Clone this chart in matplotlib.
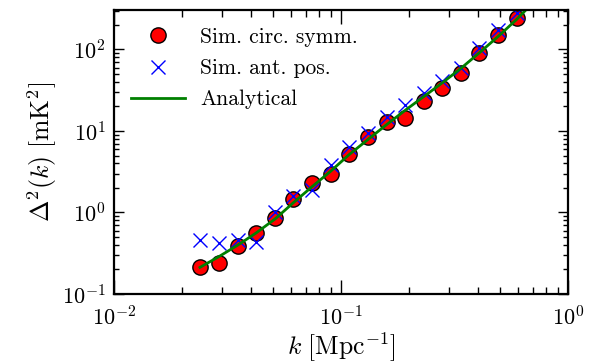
#! /usr/bin/env python
"""
plot.py
"""

import numpy as np
import matplotlib
matplotlib.use('Agg')
import matplotlib.pyplot as plt

plt.rcParams['font.family'] = 'serif'
plt.rcParams['font.serif'] = ['cmr10']
plt.rcParams['mathtext.fontset'] = 'cm'
plt.rcParams['axes.formatter.use_mathtext'] = True
plt.rcParams['axes.unicode_minus'] = False

# k in Mpc^-1
k_sim = [0.0239, 0.0290, 0.0351, 0.0423, 0.0512, 0.0617, 0.0748, 0.0904,
         0.108, 0.132, 0.159, 0.191, 0.231, 0.279, 0.338, 0.407, 0.493,
         0.594]
# Delta^2 in mK^2
delta_circ = [0.212, 0.237, 0.383, 0.558, 0.851, 1.46, 2.28, 3.0, 5.21,
              8.49, 12.8, 14.3, 23.5, 34.0, 50.8, 91.6, 151, 243]
delta_ant = [0.463, 0.421, 0.46, 0.44, 1.0, 1.6, 1.9, 3.83, 6.41, 9.4,
             14.9, 20.7, 29.1, 41.4, 58.9, 105, 174, 279]

k_analytic = [0.0239, 0.0290, 0.0351, 0.0423, 0.0512, 0.0617, 0.0748,
              0.0904, 0.108, 0.132, 0.159, 0.191, 0.231, 0.279, 0.338,
              0.407, 0.493, 0.594, 0.66]
delta_analytic = [0.212, 0.288, 0.398, 0.562, 0.832, 1.32, 2.09, 3.24,
                  5.07, 7.94, 12.0, 17.8, 26.3, 38.9, 58.9, 91.2, 145, 234,
                  316]

fig = plt.figure(figsize=(5.92, 3.64), dpi=100)
ax = fig.add_axes([0.1926, 0.1923, 0.7669, 0.7802])

ax.plot(k_sim, delta_circ, ls='none', marker='o', ms=11, mfc='r', mec='k',
        mew=1.0, label=r'Sim. circ. symm.')
ax.plot(k_sim, delta_ant, ls='none', marker='x', ms=10, color='b',
        mew=1.0, label=r'Sim. ant. pos.')
ax.plot(k_analytic, delta_analytic, color='g', lw=2.0, label='Analytical')

ax.set_xscale('log')
ax.set_yscale('log')
ax.set_xlim(1e-2, 1e0)
ax.set_ylim(1e-1, 305)

ax.set_xlabel(r'$k\ [\mathrm{Mpc}^{-1}]$', fontsize=18.5, labelpad=1)
ax.set_ylabel(r'$\Delta^2(k)\ [\mathrm{mK}^2]$', fontsize=18.5, labelpad=2)

for s in ax.spines.values():
    s.set_linewidth(1.6)
ax.tick_params(which='both', direction='in', top=True, right=True,
               labelsize=16)
ax.tick_params(axis='x', which='major', length=10, width=1, pad=8)
ax.tick_params(axis='x', which='minor', length=5, width=1)
ax.tick_params(axis='y', which='major', length=7, width=1, pad=6)
ax.tick_params(axis='y', which='minor', length=3.5, width=1)

ax.legend(loc='upper left', frameon=False, numpoints=1, fontsize=15.5,
          handlelength=2.5, handletextpad=0.7, borderaxespad=0.4,
          labelspacing=0.55)

fig.savefig('out.png', dpi=100)
plt.close(fig)
